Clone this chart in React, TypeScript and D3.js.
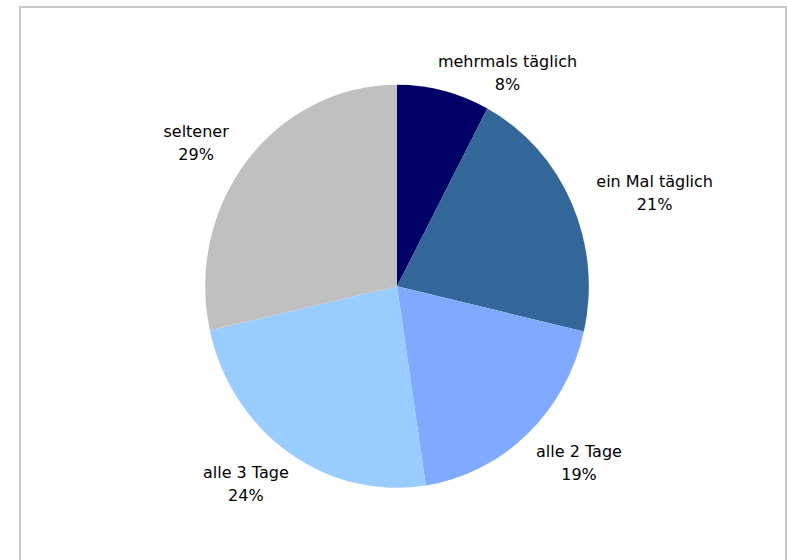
import React from 'react';
import * as d3 from 'd3';

// survey answers, share of respondents
const categories = ['mehrmals täglich', 'ein Mal täglich', 'alle 2 Tage', 'alle 3 Tage', 'seltener'];
const shares = [7.8, 20.8, 19.0, 23.9, 28.5];
const pctLabels = ['8%', '21%', '19%', '24%', '29%'];
const colors = ['#000066', '#336699', '#80aaff', '#99ccff', '#c0c0c0'];

const W = 787;
const H = 560;
const cx = 397;
const cy = 286.3;
const rx = 191.8;
const ry = 201.5;
const fontSize = 16;
const lineH = 23;
const pad = 22;
const plotTop = 46.5;

let ctx: CanvasRenderingContext2D | null = null;
function textWidth(t: string) {
    if (!ctx) {
        ctx = document.createElement('canvas').getContext('2d');
    }
    if (!ctx) return t.length * fontSize * 0.55;
    ctx.font = `${fontSize}px "DejaVu Sans"`;
    return ctx.measureText(t).width;
}

export default function App() {
    const data = categories.map((c, i) => ({ name: c, value: shares[i], pct: pctLabels[i], color: colors[i] }));

    const pie = d3.pie<any>().sort(null).value(d => d.value);
    const arcs = pie(data);
    const arc = d3.arc<any>().innerRadius(0).outerRadius(ry);

    // labels sit on a ring just outside the pie, pushed out by half their width
    const R = 1.057;
    const ringY = ry * R + pad;
    const labels = arcs.map(a => {
        const mid = (a.startAngle + a.endAngle) / 2;
        let s = Math.sin(mid);
        let c = Math.cos(mid);
        const w = Math.max(textWidth(a.data.name), textWidth(a.data.pct));
        const ringX = rx * R + pad + w / 2;
        let by = cy - c * ringY;
        // keep labels inside the plot area: slide along the ring
        if (by - pad < plotTop) {
            by = plotTop + pad;
            c = (cy - by) / ringY;
            s = Math.sign(s) * Math.sqrt(1 - c * c);
        }
        const bx = cx + s * ringX;
        return { x: bx, y1: by - 2, y2: by - 2 + lineH, d: a.data };
    });

    return (
        <svg width={W} height={H} style={{ position: 'absolute', left: 0, top: 0, background: '#fff' }}
            fontFamily='"DejaVu Sans", Verdana, sans-serif'>
            <rect x={20} y={7} width={766} height={620} fill="#fff" stroke="#c6c6c6" strokeWidth={2} />
            <g transform={`translate(${cx},${cy}) scale(${rx / ry},1)`}>
                {arcs.map((a, i) =>
                    <path key={i} d={arc(a) || ''} fill={a.data.color} />
                )}
            </g>
            <g fontSize={fontSize} fill="#000" textAnchor="middle">
                {labels.map((l, i) =>
                    <text key={i} x={l.x}>
                        <tspan x={l.x} y={l.y1}>{l.d.name}</tspan>
                        <tspan x={l.x} y={l.y2}>{l.d.pct}</tspan>
                    </text>
                )}
            </g>
        </svg>
    );
}
